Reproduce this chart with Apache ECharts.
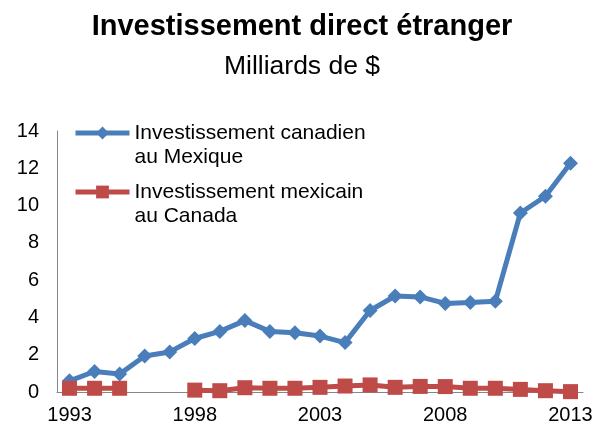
<!DOCTYPE html>
<html>
<head>
<meta charset="utf-8">
<script src="https://cdn.jsdelivr.net/npm/echarts@6/dist/echarts.min.js"></script>
<style>html,body{margin:0;padding:0;background:#fff}#c{width:604px;height:426px}</style>
</head>
<body>
<div id="c"></div>
<script>
var years = ['1993','1994','1995','1996','1997','1998','1999','2000','2001','2002','2003','2004','2005','2006','2007','2008','2009','2010','2011','2012','2013'];
var canadaInMexico = [0.6, 1.1, 0.96, 1.93, 2.15, 2.87, 3.25, 3.83, 3.25, 3.18, 3.0, 2.65, 4.37, 5.15, 5.1, 4.75, 4.8, 4.87, 9.6, 10.5, 12.27];
var mexicoInCanada = [0.2, 0.2, 0.2, null, null, 0.1, 0.07, 0.23, 0.2, 0.2, 0.25, 0.32, 0.38, 0.25, 0.3, 0.29, 0.2, 0.2, 0.14, 0.07, 0.02];
var seriesNames = ['Investissement canadien\nau Mexique', 'Investissement mexicain\nau Canada'];
var titleText = 'Investissement direct étranger';
var subtitleText = 'Milliards de $';

var font = '"Liberation Sans", Arial, sans-serif';
var chart = echarts.init(document.getElementById('c'), null, {renderer: 'canvas'});
chart.setOption({
  animation: false,
  backgroundColor: '#fff',
  title: [
    {text: titleText, left: 'center', top: 12, padding: 0,
     textStyle: {fontFamily: font, fontSize: 29, fontWeight: 'bold', color: '#000'}},
    {text: subtitleText, left: 'center', top: 53, padding: 0,
     textStyle: {fontFamily: font, fontSize: 26.5, fontWeight: 'normal', color: '#000'}}
  ],
  legend: {
    orient: 'vertical', left: 73, top: 97, padding: 0,
    itemWidth: 54, itemHeight: 16, itemGap: -13,
    selectedMode: false,
    lineStyle: {width: 5},
    formatter: function (name) { return '\n' + name; },
    textStyle: {fontFamily: font, fontSize: 21, color: '#000', lineHeight: 24},
    data: seriesNames
  },
  grid: {left: 57, right: 21, top: 131, bottom: 34, containLabel: false},
  xAxis: {
    type: 'category', data: years, boundaryGap: true,
    axisLine: {lineStyle: {color: '#868686', width: 1}},
    axisTick: {show: false},
    axisLabel: {interval: 4, margin: 13, fontFamily: font, fontSize: 20, color: '#000'}
  },
  yAxis: {
    type: 'value', min: 0, max: 14, interval: 2,
    axisLine: {show: true, lineStyle: {color: '#868686', width: 1}},
    axisTick: {show: false},
    splitLine: {show: false},
    axisLabel: {margin: 18, fontFamily: font, fontSize: 20, color: '#000'}
  },
  series: [
    {name: seriesNames[0], type: 'line', data: canadaInMexico,
     symbol: 'diamond', symbolSize: 15,
     lineStyle: {color: '#4A7EBB', width: 5},
     itemStyle: {color: '#4A7EBB'}},
    {name: seriesNames[1], type: 'line', data: mexicoInCanada, connectNulls: false,
     symbol: 'rect', symbolSize: 15,
     lineStyle: {color: '#BE4B48', width: 5},
     itemStyle: {color: '#BE4B48'}}
  ]
});
</script>
</body>
</html>
